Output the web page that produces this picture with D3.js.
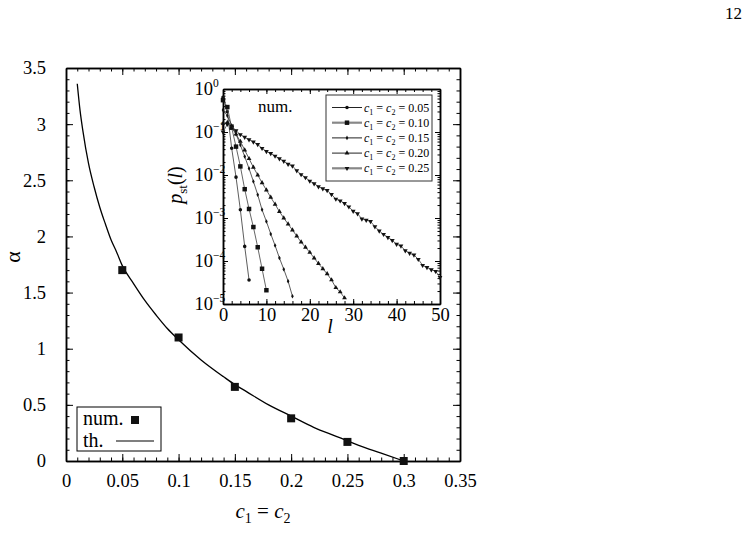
<!DOCTYPE html>
<html>
<head>
<meta charset="utf-8">
<script src="https://cdn.jsdelivr.net/npm/d3@7"></script>
<style>
  body { margin: 0; background: #fff; }
  svg, svg text { font-family: "Liberation Serif", "Times New Roman", serif; }
  .axis path, .axis line { stroke: #000; }
  .axis text { fill: #000; }
</style>
</head>
<body>
<svg width="751" height="550"></svg>
<script>
// hoofdgrafiek: numerieke punten en theoretische curve
var numC = [0.05, 0.10, 0.15, 0.20, 0.25, 0.30];
var numAlpha = [1.70, 1.10, 0.66, 0.38, 0.17, 0.00];

var thC = [0.01, 0.0125, 0.015, 0.02, 0.025, 0.03, 0.035, 0.04, 0.045, 0.05, 0.06, 0.07, 0.08, 0.09, 0.10,
    0.12, 0.14, 0.15, 0.16, 0.18, 0.20, 0.22, 0.24, 0.25, 0.26, 0.28, 0.30];
var thAlpha = [3.36, 3.12, 2.94, 2.65, 2.44, 2.26, 2.11, 1.97, 1.86, 1.74, 1.58, 1.43, 1.30, 1.18, 1.08,
    0.90, 0.75, 0.68, 0.62, 0.50, 0.40, 0.30, 0.22, 0.18, 0.14, 0.07, 0.00];

var xTicks = [0, 0.05, 0.1, 0.15, 0.2, 0.25, 0.3, 0.35];
var yTicks = [0, 0.5, 1, 1.5, 2, 2.5, 3, 3.5];

// inzet: log10 van p_st(l), index = l
var series = ["0.05", "0.10", "0.15", "0.20", "0.25"];
var logP005 = [-0.19, -0.53, -1.38, -2.05, -2.81, -3.66, -4.44];
var logP010 = [-0.26, -0.42, -0.90, -1.34, -1.80, -2.33, -2.79, -3.21, -3.68, -4.18, -4.68];
var logP015 = [-0.49, -0.62, -0.85, -1.05, -1.30, -1.57, -1.85, -2.15, -2.46, -2.81, -3.08, -3.37, -3.64,
    -3.93, -4.19, -4.47, -4.82];
var logP020 = [-0.80, -0.78, -0.90, -1.05, -1.22, -1.42, -1.62, -1.82, -2.00, -2.18, -2.35, -2.52, -2.68,
    -2.85, -3.00, -3.14, -3.28, -3.42, -3.56, -3.68, -3.80, -3.93, -4.06, -4.18, -4.30, -4.44, -4.62, -4.72, -4.86];
var logP025 = [-1.00, -0.82, -0.86, -0.97, -1.06, -1.12, -1.18, -1.23, -1.29, -1.38, -1.45, -1.50, -1.56,
    -1.62, -1.68, -1.75, -1.79, -1.90, -1.99, -2.06, -2.14, -2.20, -2.27, -2.32, -2.36, -2.45, -2.56, -2.60,
    -2.66, -2.74, -2.84, -2.90, -3.02, -3.05, -3.08, -3.20, -3.30, -3.38, -3.45, -3.52, -3.61, -3.65, -3.76,
    -3.82, -3.86, -3.96, -4.10, -4.15, -4.20, -4.24, -4.38];
var insetData = [logP005, logP010, logP015, logP020, logP025];
var lTicks = [0, 10, 20, 30, 40, 50];
var pTicks = [1e-5, 1e-4, 1e-3, 1e-2, 1e-1, 1];

var svg = d3.select("svg");

var x = d3.scaleLinear().domain([0, 0.35]).range([66, 460]);
var y = d3.scaleLinear().domain([0, 3.5]).range([461, 68]);

// kleine tickjes
var xMinor = d3.range(0, 0.3501, 0.01);
var yMinor = d3.range(0, 3.501, 0.1);

function fmt(d) { return String(+d.toFixed(2)); }

// d3 zet zelf sans-serif op de as, dat halen we hier weer weg
function drawAxis(axis, tx, ty) {
    return svg.append("g").attr("class", "axis")
        .attr("transform", "translate(" + tx + "," + ty + ")")
        .call(axis)
        .attr("font-family", null)
        .attr("font-size", null);
}

// hoofdassen
var gx = drawAxis(d3.axisBottom(x).tickValues(xTicks).tickFormat(fmt).tickSize(-7).tickSizeOuter(0).tickPadding(13), 0, 461);
drawAxis(d3.axisBottom(x).tickValues(xMinor).tickFormat("").tickSize(-3.5).tickSizeOuter(0), 0, 461);
drawAxis(d3.axisTop(x).tickValues(xTicks).tickFormat("").tickSize(-7).tickSizeOuter(0), 0, 68);
drawAxis(d3.axisTop(x).tickValues(xMinor).tickFormat("").tickSize(-3.5).tickSizeOuter(0), 0, 68);
var gy = drawAxis(d3.axisLeft(y).tickValues(yTicks).tickFormat(fmt).tickSize(-7).tickSizeOuter(0).tickPadding(20), 66, 0);
drawAxis(d3.axisLeft(y).tickValues(yMinor).tickFormat("").tickSize(-3.5).tickSizeOuter(0), 66, 0);
drawAxis(d3.axisRight(y).tickValues(yTicks).tickFormat("").tickSize(-7).tickSizeOuter(0), 460, 0);
drawAxis(d3.axisRight(y).tickValues(yMinor).tickFormat("").tickSize(-3.5).tickSizeOuter(0), 460, 0);

gx.selectAll("text").style("font-size", "18.5px");
gy.selectAll("text").style("font-size", "18.5px");

// theorie curve
var line = d3.line()
    .x(function (d, i) { return x(thC[i]); })
    .y(function (d) { return y(d); })
    .curve(d3.curveMonotoneX);

svg.append("path")
    .datum(thAlpha)
    .attr("d", line)
    .attr("fill", "none")
    .attr("stroke", "#000")
    .attr("stroke-width", 1.3);

svg.selectAll(".num")
    .data(numAlpha)
    .enter().append("rect")
    .attr("class", "num")
    .attr("x", function (d, i) { return x(numC[i]) - 4; })
    .attr("y", function (d) { return y(d) - 4; })
    .attr("width", 8)
    .attr("height", 8)
    .attr("fill", "#111");

// aslabels
svg.append("text")
    .attr("transform", "translate(20,257) rotate(-90)")
    .attr("text-anchor", "middle")
    .style("font-size", "22px")
    .text("α");

var xt = svg.append("text")
    .attr("x", 263).attr("y", 518)
    .attr("text-anchor", "middle")
    .style("font-size", "21px");
xt.append("tspan").style("font-style", "italic").text("c");
xt.append("tspan").attr("dy", 5).style("font-size", "14px").text("1");
xt.append("tspan").attr("dy", -5).text(" = ");
xt.append("tspan").style("font-style", "italic").text("c");
xt.append("tspan").attr("dy", 5).style("font-size", "14px").text("2");

// legenda hoofdgrafiek
svg.append("rect")
    .attr("x", 77).attr("y", 407).attr("width", 84).attr("height", 44)
    .attr("fill", "#fff").attr("stroke", "#000").attr("stroke-width", 1);
svg.append("text").attr("x", 83).attr("y", 425).style("font-size", "20px").text("num.");
svg.append("rect").attr("x", 131).attr("y", 416).attr("width", 8).attr("height", 8).attr("fill", "#111");
svg.append("text").attr("x", 83).attr("y", 447).style("font-size", "20px").text("th.");
svg.append("line").attr("x1", 116).attr("x2", 154).attr("y1", 441).attr("y2", 441)
    .attr("stroke", "#000").attr("stroke-width", 1.2);

// paginanummer
svg.append("text").attr("x", 742).attr("y", 19).attr("text-anchor", "end")
    .style("font-size", "17px").text("12");

// ---------------- inzet ----------------
var ix = d3.scaleLinear().domain([0, 50]).range([223, 440]);
var iy = d3.scaleLog().domain([1e-5, 1]).range([304, 89]);

svg.append("rect")
    .attr("x", 223).attr("y", 89).attr("width", 217).attr("height", 215)
    .attr("fill", "#fff");

var lMinor = d3.range(0, 50.1, 2);
var pMinor = [];
pTicks.slice(0, 5).forEach(function (p) {
    for (var k = 2; k <= 9; k++) pMinor.push(p * k);
});

var ixAxis = drawAxis(d3.axisBottom(ix).tickValues(lTicks).tickSize(-5).tickSizeOuter(0).tickPadding(4), 0, 304);
drawAxis(d3.axisBottom(ix).tickValues(lMinor).tickFormat("").tickSize(-3).tickSizeOuter(0), 0, 304);
drawAxis(d3.axisTop(ix).tickValues(lTicks).tickFormat("").tickSize(-5).tickSizeOuter(0), 0, 89);
drawAxis(d3.axisTop(ix).tickValues(lMinor).tickFormat("").tickSize(-3).tickSizeOuter(0), 0, 89);
var iyAxis = drawAxis(d3.axisLeft(iy).tickValues(pTicks).tickFormat("").tickSize(-5).tickSizeOuter(0), 223, 0);
drawAxis(d3.axisLeft(iy).tickValues(pMinor).tickFormat("").tickSize(-2.5).tickSizeOuter(0), 223, 0);
drawAxis(d3.axisRight(iy).tickValues(pTicks).tickFormat("").tickSize(-5).tickSizeOuter(0), 440, 0);
drawAxis(d3.axisRight(iy).tickValues(pMinor).tickFormat("").tickSize(-2.5).tickSizeOuter(0), 440, 0);

svg.selectAll(".axis path").attr("stroke-width", 1.5);
svg.selectAll(".axis line").attr("stroke-width", 1);
ixAxis.selectAll("text").style("font-size", "18.5px");

// log labels 10^n: "10" eindigt op vaste plek, exponent erachter
iyAxis.selectAll(".tick").each(function (d) {
    var e = Math.round(Math.log10(d));
    var tick = d3.select(this);
    tick.select("text")
        .attr("x", -10).attr("dy", "0.32em")
        .attr("text-anchor", "end")
        .style("font-size", "18.5px")
        .text("10");
    tick.append("text")
        .attr("x", -10).attr("dy", "-0.2em")
        .attr("text-anchor", "start")
        .attr("fill", "#000")
        .style("font-size", "11.5px")
        .text(e === 0 ? "0" : "\u2212" + Math.abs(e));
});

var symbols = [
    d3.symbol().type(d3.symbolCircle).size(10),
    d3.symbol().type(d3.symbolSquare).size(20),
    d3.symbol().type(d3.symbolDiamond).size(6),
    d3.symbol().type(d3.symbolTriangle).size(10),
    d3.symbol().type(d3.symbolTriangle).size(10)
];
var lineColor = ["#333", "#555", "#333", "#333", "#555"];
var lineWidth = [0.8, 0.9, 0.8, 0.8, 0.9];
var legendColor = ["#222", "#888", "#222", "#222", "#888"];
var legendWidth = [1, 2.2, 1, 1, 2.2];

var iline = d3.line()
    .x(function (d, i) { return ix(i); })
    .y(function (d) { return iy(Math.pow(10, d)); });

insetData.forEach(function (arr, s) {
    svg.append("path")
        .datum(arr)
        .attr("d", iline)
        .attr("fill", "none")
        .attr("stroke", lineColor[s])
        .attr("stroke-width", lineWidth[s]);

    svg.selectAll(".m" + s)
        .data(arr)
        .enter().append("path")
        .attr("class", "m" + s)
        .attr("d", symbols[s])
        .attr("transform", function (d, i) {
            return "translate(" + ix(i) + "," + iy(Math.pow(10, d)) + ")" + (s === 4 ? " rotate(180)" : "");
        })
        .attr("fill", "#111");
});

// inzet labels
svg.append("text").attr("x", 258).attr("y", 112).style("font-size", "17px").text("num.");

svg.append("text").attr("x", 330).attr("y", 333)
    .attr("text-anchor", "middle")
    .style("font-size", "20px").style("font-style", "italic").text("l");

var yl = svg.append("text")
    .attr("transform", "translate(182,185) rotate(-90)")
    .attr("text-anchor", "middle")
    .style("font-size", "20px");
yl.append("tspan").style("font-style", "italic").text("p");
yl.append("tspan").attr("dy", 5).style("font-size", "13px").text("st");
yl.append("tspan").attr("dy", -5).text("(");
yl.append("tspan").style("font-style", "italic").text("l");
yl.append("tspan").text(")");

// legenda inzet
svg.append("rect")
    .attr("x", 326).attr("y", 95).attr("width", 106).attr("height", 86)
    .attr("fill", "#fff").attr("stroke", "#333").attr("stroke-width", 1);

series.forEach(function (name, s) {
    var ly = 107.5 + s * 15.2;
    svg.append("line").attr("x1", 332).attr("x2", 362).attr("y1", ly).attr("y2", ly)
        .attr("stroke", legendColor[s]).attr("stroke-width", legendWidth[s]);
    svg.append("path").attr("d", symbols[s])
        .attr("transform", "translate(347," + ly + ")" + (s === 4 ? " rotate(180)" : ""))
        .attr("fill", "#111");
    var t = svg.append("text").attr("x", 364).attr("y", ly + 4).style("font-size", "12px");
    t.append("tspan").style("font-style", "italic").text("c");
    t.append("tspan").attr("dy", 3).style("font-size", "8px").text("1");
    t.append("tspan").attr("dy", -3).text(" = ");
    t.append("tspan").style("font-style", "italic").text("c");
    t.append("tspan").attr("dy", 3).style("font-size", "8px").text("2");
    t.append("tspan").attr("dy", -3).text(" = " + name);
});
</script>
</body>
</html>
